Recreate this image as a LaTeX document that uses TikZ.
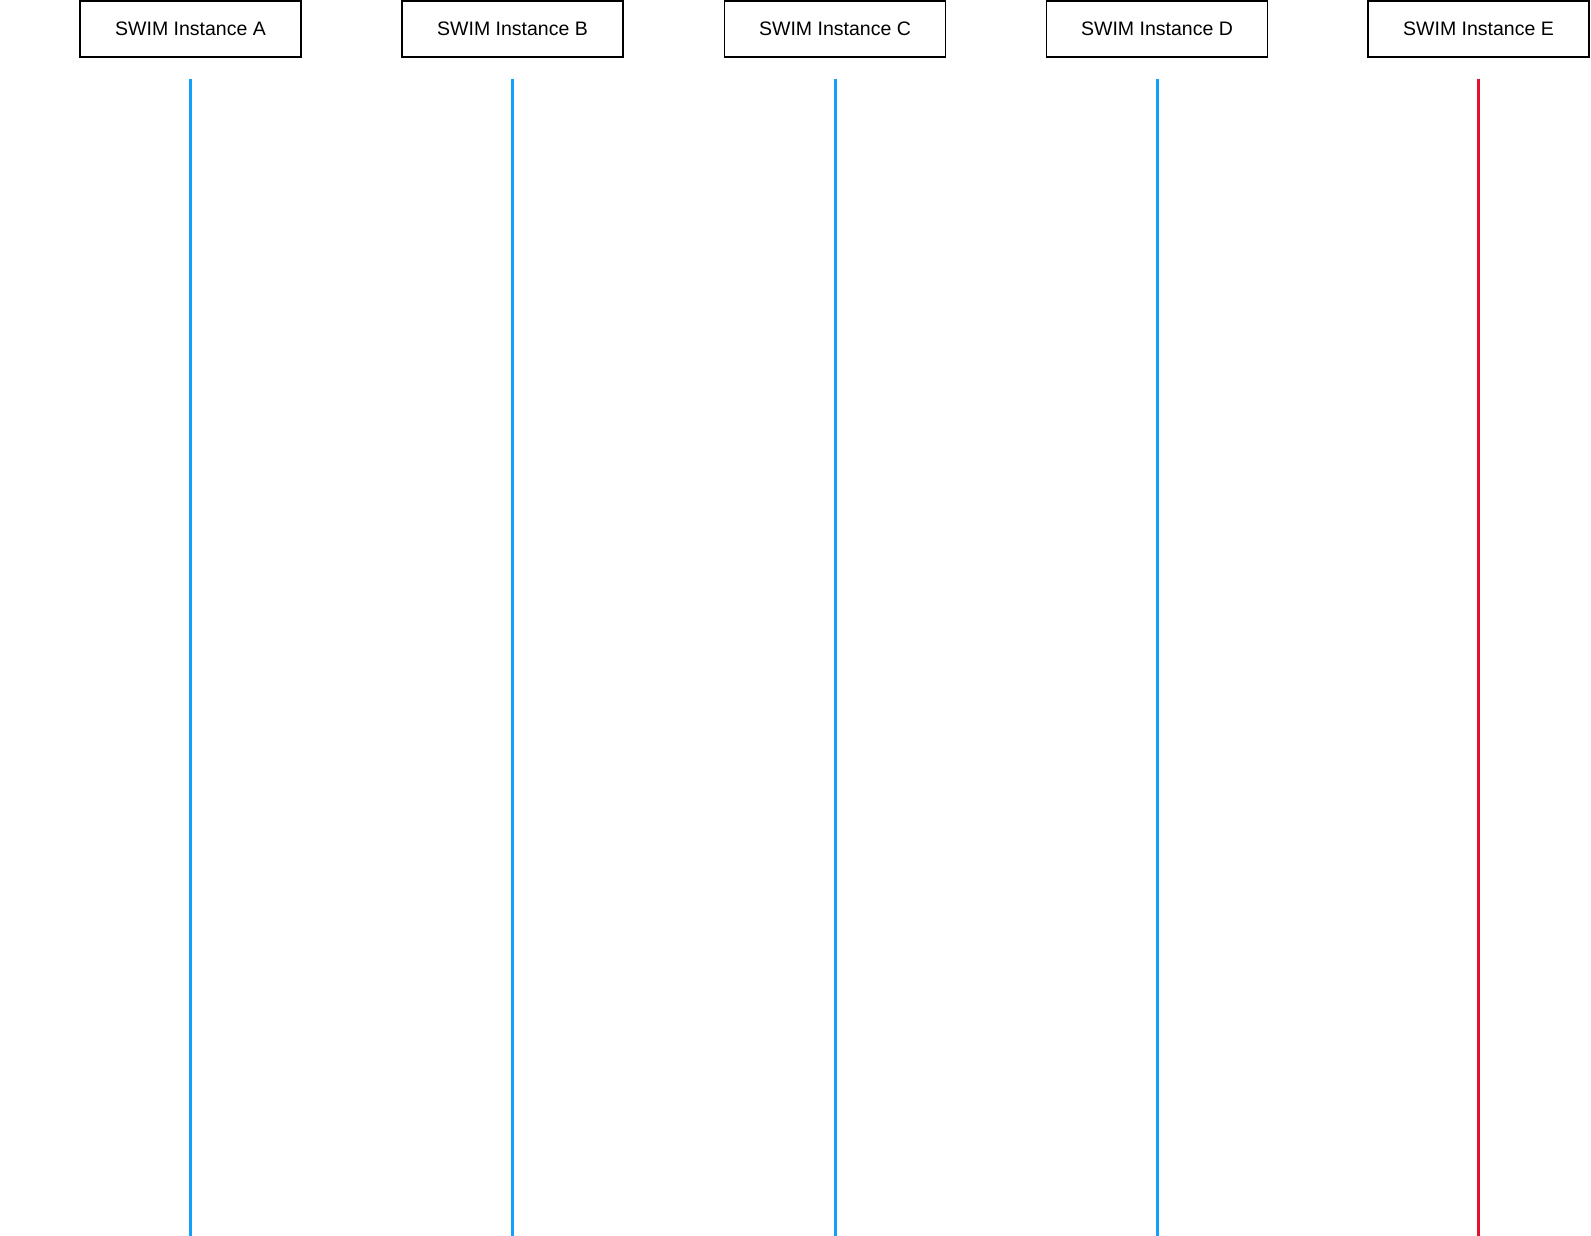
\documentclass[tikz,border=0pt]{standalone}
\usepackage{fontspec}
\setmainfont{Liberation Sans}
\definecolor{lifeblue}{HTML}{12A0FA}
\definecolor{lifered}{HTML}{E3102E}
\begin{document}
\begin{tikzpicture}[x=1pt,y=-1pt,
  inst/.style={draw=black,line width=1.5pt,minimum width=221pt,minimum height=56pt,inner sep=0pt,font=\fontsize{19.5}{22}\selectfont},
  life/.style={line width=3pt,draw=lifeblue},
  lifebad/.style={line width=3pt,draw=lifered}]
\useasboundingbox (0,0) rectangle (1591,1236);
\node[inst] (A) at (190.5,29) {SWIM Instance A};
\node[inst] (B) at (512.5,29) {SWIM Instance B};
\node[inst] (C) at (835,29) {SWIM Instance C};
\node[inst] (D) at (1157,29) {SWIM Instance D};
\node[inst] (E) at (1478.5,29) {SWIM Instance E};
\foreach \n in {A,B,C,D,E} {
  \coordinate (\n top) at ([yshift=-21pt]\n.south);
  \coordinate (\n bot) at (\n.south |- 0,1236);
}
\draw[life] (Atop) -- (Abot);
\draw[life] (Btop) -- (Bbot);
\draw[life] (Ctop) -- (Cbot);
\draw[life] (Dtop) -- (Dbot);
\draw[lifebad] (Etop) -- (Ebot);
\end{tikzpicture}
\end{document}
